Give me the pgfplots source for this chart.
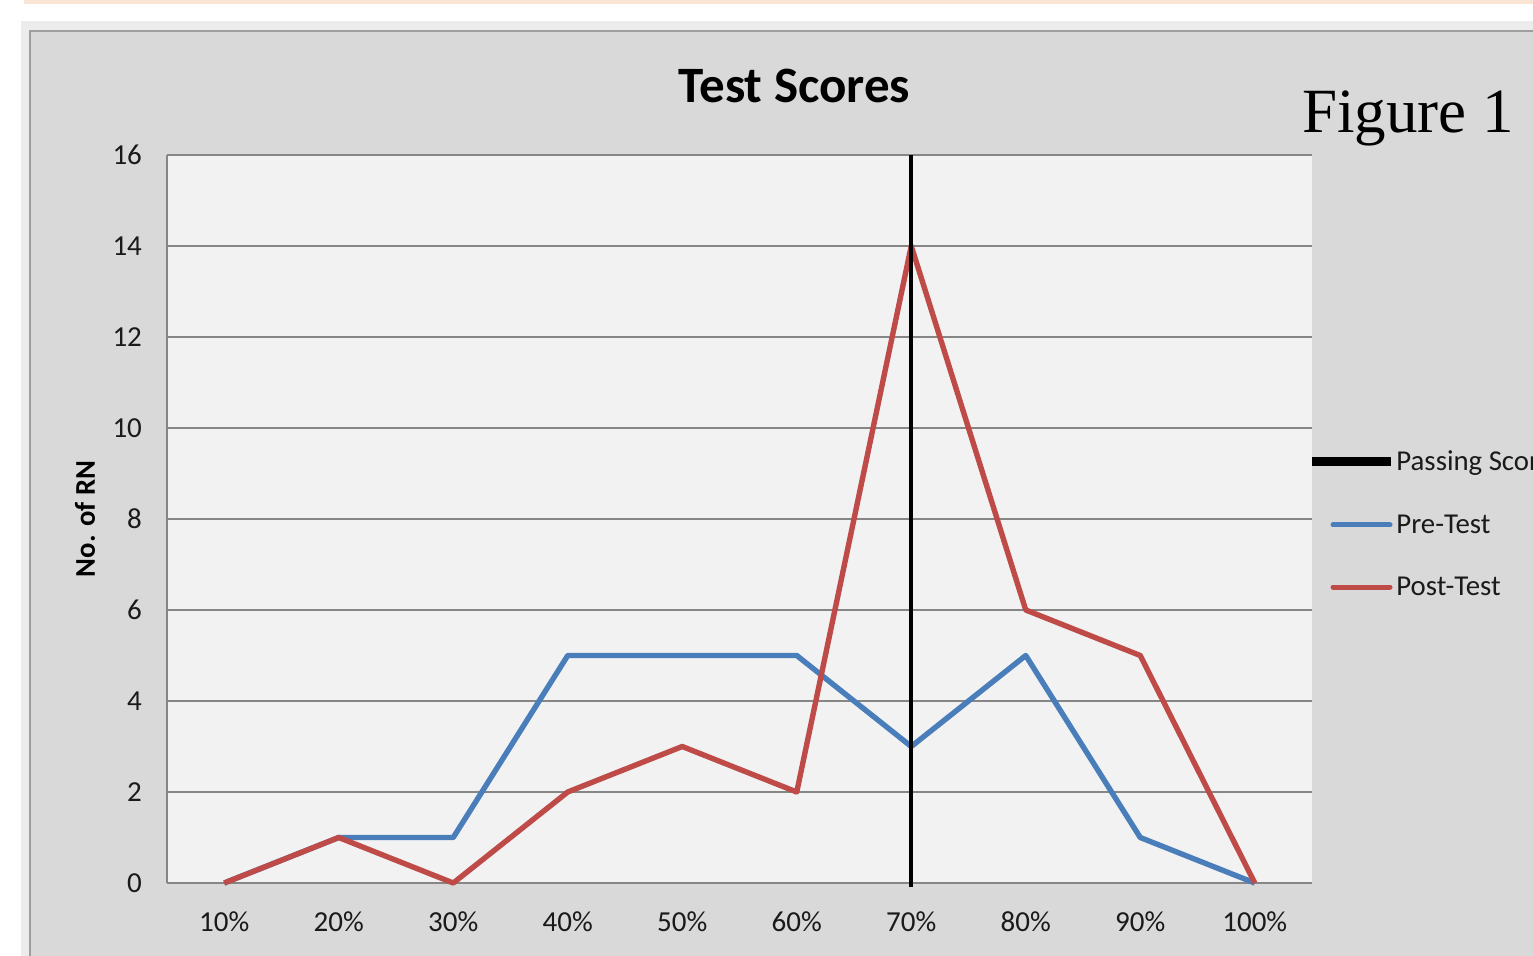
\documentclass[border=0pt]{standalone}
\usepackage{pgfplots}
\pgfplotsset{compat=1.18}
\usepackage{fontspec}
\setmainfont{Carlito}
\newfontfamily\timesfont{Liberation Serif}

\definecolor{chartbg}{HTML}{D9D9D9}
\definecolor{plotbg}{HTML}{F2F2F2}
\definecolor{gridgray}{HTML}{868686}
\definecolor{pre}{HTML}{4A7EBB}
\definecolor{post}{HTML}{BE4B48}
\definecolor{band}{RGB}{250,228,212}
\definecolor{txt}{HTML}{1A1A1A}

\begin{document}
\begin{tikzpicture}[x=0.5pt,y=0.5pt]
% page frame, in pixels of the reference (y counted from the bottom)
\path[use as bounding box, clip] (0,0) rectangle (1533,955);
\fill[white] (0,0) rectangle (1533,955);
\fill[band] (24,951) rectangle (1533,955);
\fill[gray!15] (21,-5) rectangle (1540,934);
\fill[chartbg] (30,-5) rectangle (1540,924);
\draw[gray!75, line width=1pt] (30,-5) -- (30,924) -- (1540,924);

\coordinate (SW) at (167,72);
\begin{axis}[
    at={(SW)}, anchor=south west,
    scale only axis, width=572.5pt, height=364pt,
    xmin=0.5, xmax=10.5, ymin=0, ymax=16,
    xtick={1,...,10},
    xticklabels={10\%,20\%,30\%,40\%,50\%,60\%,70\%,80\%,90\%,100\%},
    ytick={0,2,...,16},
    major tick length=0pt,
    axis x line*=bottom, axis y line*=left,
    axis line style={gridgray, line width=0.6pt},
    ymajorgrids, grid style={gridgray, line width=0.6pt},
    axis background/.style={fill=plotbg},
    ticklabel style={font=\fontsize{14.5}{17}\selectfont, text=txt},
    /pgf/number format/assume math mode=true,
    yticklabel style={anchor=east, xshift=-9pt},
    xticklabel style={yshift=-11pt},
    title={Test Scores},
    title style={at={(axis description cs:0.548,1.078)}, anchor=center,
        font=\bfseries\fontsize{25.5}{30}\selectfont},
    ylabel={No. of RN},
    ylabel style={at={(axis description cs:-0.0716,0.5)}, anchor=center,
        font=\bfseries\fontsize{14.3}{17}\selectfont},
    clip=false,
]
    \addplot[pre, line width=2.7pt, line join=round]
    coordinates {
    (1,0)(2,1)(3,1)(4,5)(5,5)(6,5)(7,3)(8,5)(9,1)(10,0)
    };

    \addplot[post, line width=2.7pt, line join=round]
    coordinates {
    (1,0)(2,1)(3,0)(4,2)(5,3)(6,2)(7,14)(8,6)(9,5)(10,0)
    };

    % passing score
    \addplot[black, line width=2pt]
    coordinates {(7,-0.09)(7,16)};
\end{axis}

% legend
\draw[black, line width=4.5pt] (1312,493) -- (1391,493);
\node[anchor=base west, inner sep=0, text=txt, font=\fontsize{14.4}{17}\selectfont] at (1396,484) {Passing Score};
\draw[pre, line width=2.5pt, line cap=round] (1333,430) -- (1390,430);
\node[anchor=base west, inner sep=0, text=txt, font=\fontsize{14.4}{17}\selectfont] at (1396,422) {Pre-Test};
\draw[post, line width=2.5pt, line cap=round] (1333,368) -- (1390,368);
\node[anchor=base west, inner sep=0, text=txt, font=\fontsize{14.4}{17}\selectfont] at (1396,360) {Post-Test};

\node[anchor=base west, inner sep=0, font=\timesfont\fontsize{31.5}{36}\selectfont] at (1302,822) {Figure 1};
\end{tikzpicture}
\end{document}
